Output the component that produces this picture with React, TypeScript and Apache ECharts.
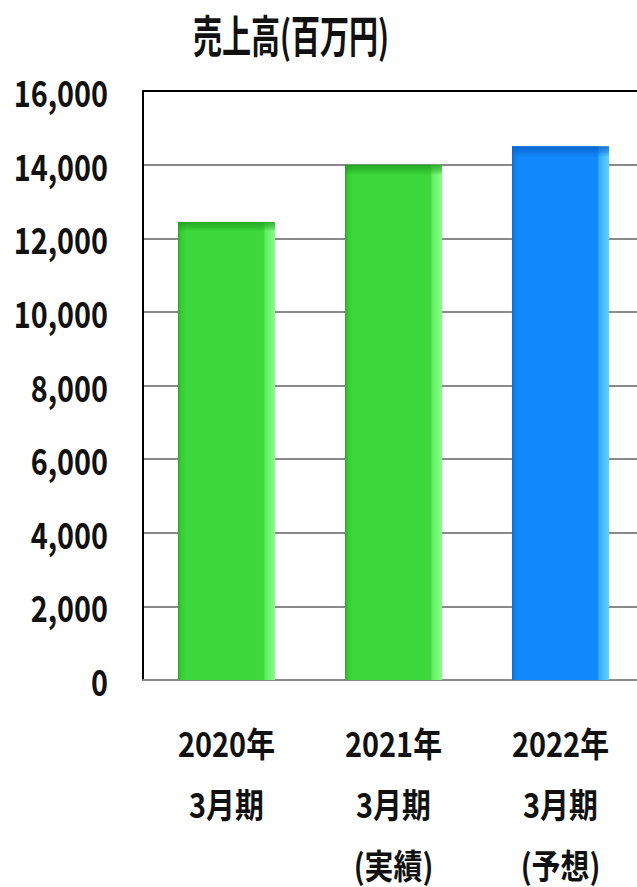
import React, { useEffect, useRef } from "react";
import * as echarts from "echarts";

const TITLE = "売上高(百万円)";
const categories = ["2020年\n3月期", "2021年\n3月期\n(実績)", "2022年\n3月期\n(予想)"];
const sales = [12440, 14000, 14500];
const barKinds = ["actual", "actual", "forecast"];
const yTickValues = [0, 2000, 4000, 6000, 8000, 10000, 12000, 14000, 16000];
const yRange = { min: 0, max: 16000, interval: 2000 };

const greenBar = new echarts.graphic.LinearGradient(0, 0, 1, 0, [
  { offset: 0, color: "#2aa82a" },
  { offset: 0.03, color: "#35cc35" },
  { offset: 0.08, color: "#3cd83c" },
  { offset: 0.88, color: "#3cd83c" },
  { offset: 0.9, color: "#62ec62" },
  { offset: 1, color: "#86ff86" },
]);
const blueBar = new echarts.graphic.LinearGradient(0, 0, 1, 0, [
  { offset: 0, color: "#0d6fcf" },
  { offset: 0.03, color: "#1080ee" },
  { offset: 0.08, color: "#1188fb" },
  { offset: 0.88, color: "#1188fb" },
  { offset: 0.9, color: "#35b0ff" },
  { offset: 1, color: "#60d2ff" },
]);
const greenTop = new echarts.graphic.LinearGradient(0, 0, 0, 1, [
  { offset: 0, color: "rgba(30,150,30,0.75)" },
  { offset: 0.011, color: "rgba(30,160,30,0.45)" },
  { offset: 0.02, color: "rgba(30,160,30,0)" },
  { offset: 1, color: "rgba(30,160,30,0)" },
]);
const blueTop = new echarts.graphic.LinearGradient(0, 0, 0, 1, [
  { offset: 0, color: "rgba(10,90,190,0.75)" },
  { offset: 0.011, color: "rgba(10,100,200,0.45)" },
  { offset: 0.02, color: "rgba(10,100,200,0)" },
  { offset: 1, color: "rgba(10,100,200,0)" },
]);

export default function App() {
  const ref = useRef<HTMLDivElement>(null);
  useEffect(() => {
    if (!ref.current) return;
    const chart = echarts.init(ref.current, undefined, { renderer: "svg" });
    const font = '"Noto Sans CJK JP", sans-serif';
    chart.setOption({
      animation: false,
      backgroundColor: "#ffffff",
      graphic: [
        {
          type: "text",
          x: 291,
          y: 34,
          scaleX: 0.66,
          style: {
            text: TITLE,
            fontFamily: font,
            fontSize: 44,
            fontWeight: "bold",
            fill: "#111111",
            align: "center",
            verticalAlign: "middle",
          },
        },
      ],
      grid: { left: 143, right: -7, top: 91, bottom: 207, containLabel: false, outerBoundsMode: "none" },
      xAxis: [
        {
          type: "category",
          data: categories,
          position: "bottom",
          axisLine: { show: true, lineStyle: { color: "#8a8a8a", width: 2 } },
          axisTick: { show: false },
          axisLabel: { show: false },
        },
        {
          type: "category",
          data: categories,
          position: "top",
          axisLine: { show: true, lineStyle: { color: "#000000", width: 2 } },
          axisTick: { show: false },
          axisLabel: { show: false },
        },
      ],
      yAxis: {
        type: "value",
        min: yRange.min,
        max: yRange.max,
        interval: yRange.interval,
        axisLine: { show: true, lineStyle: { color: "#000000", width: 2 } },
        axisTick: { show: false },
        splitLine: { show: true, lineStyle: { color: "#8a8a8a", width: 2 } },
        axisLabel: { show: false },
      },
      series: [
        {
          type: "bar",
          xAxisIndex: 0,
          barWidth: 97,
          data: sales.map((v, i) => ({
            value: v,
            itemStyle: { color: barKinds[i] === "forecast" ? blueBar : greenBar },
          })),
        },
        {
          type: "bar",
          xAxisIndex: 0,
          barWidth: 97,
          barGap: "-100%",
          silent: true,
          data: sales.map((v, i) => ({
            value: v,
            itemStyle: { color: barKinds[i] === "forecast" ? blueTop : greenTop },
          })),
        },
        {
          // y tick labels, placed through the value axis
          type: "custom",
          xAxisIndex: 0,
          yAxisIndex: 0,
          silent: true,
          clip: false,
          data: yTickValues.map((v) => [0, v]),
          renderItem: (params: any, api: any) => {
            const v = api.value(1);
            const y = api.coord([0, v])[1];
            const cs = params.coordSys;
            return {
              type: "text",
              x: cs.x - 35,
              y,
              scaleX: 0.8,
              style: {
                text: Number(v).toLocaleString("en-US"),
                fontFamily: font,
                fontSize: 36,
                fontWeight: "bold",
                fill: "#111",
                align: "right",
                verticalAlign: "middle",
              },
            };
          },
        },
        {
          // category labels, placed through the category axis
          type: "custom",
          xAxisIndex: 0,
          yAxisIndex: 0,
          silent: true,
          clip: false,
          data: categories.map((_, i) => [i, 0]),
          renderItem: (params: any, api: any) => {
            const i = params.dataIndex;
            const x = api.coord([i, 0])[0];
            const cs = params.coordSys;
            return {
              type: "text",
              x,
              y: cs.y + cs.height + 31,
              scaleX: 0.85,
              style: {
                text: categories[i],
                fontFamily: font,
                fontSize: 34,
                fontWeight: "bold",
                lineHeight: 61,
                fill: "#111",
                align: "center",
                verticalAlign: "top",
              },
            };
          },
        },
      ],
    });
    return () => chart.dispose();
  }, []);
  return (
    <div
      ref={ref}
      style={{ position: "fixed", left: 0, top: 0, width: 637, height: 887, overflow: "hidden" }}
    />
  );
}
